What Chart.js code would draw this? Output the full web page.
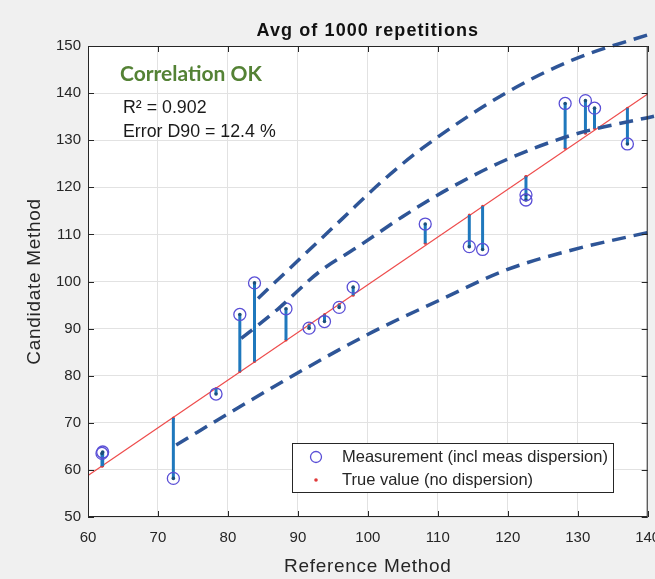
<!DOCTYPE html>
<html>
<head>
<meta charset="utf-8">
<script src="https://cdn.jsdelivr.net/npm/chart.js@4"></script>
<style>
  html, body { margin: 0; padding: 0; background: #f0f0f0; }
  #wrap { width: 655px; height: 579px; position: relative; }
</style>
</head>
<body>
<div id="wrap"><canvas id="chart"></canvas></div>
<script>
// measurements: reference value, true value (on red line), measured value
const refX  = [62.0, 62.1, 72.2, 78.3, 81.7, 83.8, 88.3, 91.6, 93.8, 95.9, 97.9, 108.2, 114.5, 116.4, 122.6, 122.6, 128.2, 131.1, 132.4, 137.1];
const trueY = [60.8, 60.9, 71.0, 77.3, 80.9, 83.0, 87.6, 90.8, 93.0, 95.1, 97.1, 108.1, 114.1, 116.0, 122.3, 122.3, 128.3, 131.5, 132.5, 136.8];
const measY = [63.5, 63.8, 58.2, 76.1, 93.0, 99.7, 94.2, 90.1, 91.5, 94.5, 98.8, 112.2, 107.4, 106.8, 117.3, 118.4, 137.8, 138.4, 136.8, 129.2];

// red reference line
const lineX = [60, 140];
const lineY = [58.8, 139.8];

// dashed limit curves
const upperX  = [84.3, 96.4, 102.2, 107.8, 119.7, 129.2, 140.9];
const upperY  = [96.4, 113.4, 121.5, 128.3, 140.0, 147.0, 152.8];
const middleX = [81.9, 87.1, 93.1, 98.6, 105.0, 111.2, 119.7, 129.2, 140.9];
const middleY = [87.9, 94.1, 102.1, 107.4, 113.8, 119.4, 125.8, 131.1, 135.1];
const lowerX  = [72.6, 81.7, 90.7, 100.7, 110.2, 119.7, 129.2, 140.9];
const lowerY  = [65.3, 73.4, 81.2, 89.3, 96.0, 102.4, 106.7, 110.7];

const xTicks = [60, 140, 10];
const yTicks = [50, 150, 10];

const titleText = 'Avg of 1000 repetitions';
const xTitle = 'Reference Method';
const yTitle = 'Candidate Method';
const statusText = 'Correlation OK';
const statLines = ['R\u00B2 = 0.902', 'Error D90 = 12.4 %'];
const legendLabels = ['Measurement (incl meas dispersion)', 'True value (no dispersion)'];

const pts = (xs, ys) => xs.map((x, i) => ({ x: x, y: ys[i] }));

// stems: true -> measured, broken by a gap
const stemData = [];
refX.forEach((x, i) => {
    stemData.push({ x: x, y: trueY[i] });
    stemData.push({ x: x, y: measY[i] });
    stemData.push({ x: x, y: null });
});

const FONT = "'Liberation Sans', Arial, sans-serif";
const INK = '#262626';
const DASH_BLUE = '#2e5597';
const MEAS_COLOR = '#5a4fd6';

function curve(xs, ys) {
    return {
        data: pts(xs, ys),
        showLine: true,
        borderColor: DASH_BLUE,
        borderWidth: 3.5,
        borderDash: [14, 8],
        pointRadius: 0,
        cubicInterpolationMode: 'monotone',
        clip: false,
        order: 0
    };
}

const framePlugin = {
    id: 'frame',
    beforeDraw(chart) {
        const { ctx, chartArea: a } = chart;
        ctx.save();
        ctx.fillStyle = '#f0f0f0';
        ctx.fillRect(0, 0, chart.width, chart.height);
        ctx.fillStyle = '#ffffff';
        ctx.fillRect(a.left, a.top, a.right - a.left, a.bottom - a.top);
        ctx.restore();
    },
    afterDraw(chart) {
        const { ctx, chartArea: a, scales } = chart;
        const xs = scales.x, ys = scales.y;
        ctx.save();

        // box + inward ticks
        ctx.strokeStyle = INK;
        ctx.lineWidth = 1;
        ctx.strokeRect(a.left + 0.5, a.top + 0.5, a.right - a.left - 1, a.bottom - a.top - 1);
        ctx.beginPath();
        for (let v = xTicks[0]; v <= xTicks[1]; v += xTicks[2]) {
            const px = Math.round(xs.getPixelForValue(v)) + 0.5;
            ctx.moveTo(px, a.bottom); ctx.lineTo(px, a.bottom - 6);
            ctx.moveTo(px, a.top); ctx.lineTo(px, a.top + 6);
        }
        for (let v = yTicks[0]; v <= yTicks[1]; v += yTicks[2]) {
            const py = Math.round(ys.getPixelForValue(v)) + 0.5;
            ctx.moveTo(a.left, py); ctx.lineTo(a.left + 6, py);
            ctx.moveTo(a.right, py); ctx.lineTo(a.right - 6, py);
        }
        ctx.stroke();

        // title
        ctx.fillStyle = '#111';
        ctx.textAlign = 'center';
        ctx.textBaseline = 'alphabetic';
        ctx.font = 'bold 18px ' + FONT;
        ctx.letterSpacing = '1.1px';
        ctx.fillText(titleText, (a.left + a.right) / 2, 36);
        ctx.letterSpacing = '0px';

        // axis titles
        ctx.fillStyle = INK;
        ctx.font = '19px ' + FONT;
        ctx.letterSpacing = '0.7px';
        ctx.fillText(xTitle, (a.left + a.right) / 2, 572);
        ctx.save();
        ctx.translate(40, (a.top + a.bottom) / 2);
        ctx.rotate(-Math.PI / 2);
        ctx.fillText(yTitle, 0, 0);
        ctx.restore();
        ctx.letterSpacing = '0px';

        // annotations
        ctx.textAlign = 'left';
        ctx.fillStyle = '#548235';
        ctx.font = "bold 21px Lato, 'Open Sans', sans-serif";
        ctx.fillText(statusText, 120, 81);
        ctx.fillStyle = '#1a1a1a';
        ctx.font = '17.8px ' + FONT;
        ctx.fillText(statLines[0], 123, 113);
        ctx.fillText(statLines[1], 123, 137);

        // legend
        const lx = 292, ly = 443, lw = 321, lh = 49;
        ctx.fillStyle = '#ffffff';
        ctx.fillRect(lx, ly, lw, lh);
        ctx.strokeStyle = INK;
        ctx.lineWidth = 1;
        ctx.strokeRect(lx + 0.5, ly + 0.5, lw, lh);
        ctx.strokeStyle = MEAS_COLOR;
        ctx.lineWidth = 1.3;
        ctx.beginPath();
        ctx.arc(316, 457, 5.5, 0, Math.PI * 2);
        ctx.stroke();
        ctx.fillStyle = '#e03a3a';
        ctx.beginPath();
        ctx.arc(316, 480, 1.8, 0, Math.PI * 2);
        ctx.fill();
        ctx.fillStyle = INK;
        ctx.font = '16.5px ' + FONT;
        ctx.textBaseline = 'middle';
        ctx.fillText(legendLabels[0], 342, 457);
        ctx.fillText(legendLabels[1], 342, 480);

        ctx.restore();
    }
};

new Chart(document.getElementById('chart'), {
    type: 'scatter',
    data: {
        datasets: [
            curve(upperX, upperY),
            curve(middleX, middleY),
            curve(lowerX, lowerY),
            {
                data: pts(refX, measY),
                pointStyle: 'circle',
                pointRadius: 6,
                pointBorderWidth: 1.3,
                pointBorderColor: MEAS_COLOR,
                pointBackgroundColor: 'rgba(0,0,0,0)',
                order: 1
            },
            {
                data: stemData,
                showLine: true,
                spanGaps: false,
                borderColor: '#1f78bd',
                borderWidth: 3,
                pointRadius: ctx => (ctx.dataIndex % 3 === 1 ? 1.8 : 0),
                pointBackgroundColor: '#1b4f7a',
                pointBorderWidth: 0,
                order: 2
            },
            {
                data: pts(refX, trueY),
                pointRadius: 1.5,
                pointBackgroundColor: '#e03a3a',
                pointBorderWidth: 0,
                order: 3
            },
            {
                data: pts(lineX, lineY),
                showLine: true,
                borderColor: '#ee4c4c',
                borderWidth: 1.2,
                pointRadius: 0,
                order: 4
            }
        ]
    },
    options: {
        responsive: true,
        maintainAspectRatio: false,
        animation: false,
        layout: { padding: { top: 46, right: 6, left: 0, bottom: 0 } },
        plugins: { legend: { display: false }, tooltip: { enabled: false } },
        scales: {
            x: {
                type: 'linear',
                min: xTicks[0], max: xTicks[1],
                ticks: { stepSize: xTicks[2], color: INK, font: { family: FONT, size: 15 }, padding: 12, maxRotation: 0 },
                grid: { color: '#e2e2e2', drawTicks: false },
                border: { display: false },
                afterFit: s => { s.height = 62; s.paddingLeft = 0; s.paddingRight = 0; }
            },
            y: {
                type: 'linear',
                min: yTicks[0], max: yTicks[1],
                ticks: { stepSize: yTicks[2], color: INK, font: { family: FONT, size: 15 }, padding: 7 },
                grid: { color: '#e2e2e2', drawTicks: false },
                border: { display: false },
                afterFit: s => { s.width = 88; s.paddingTop = 0; s.paddingBottom = 0; }
            }
        }
    },
    plugins: [framePlugin]
});
</script>
</body>
</html>
